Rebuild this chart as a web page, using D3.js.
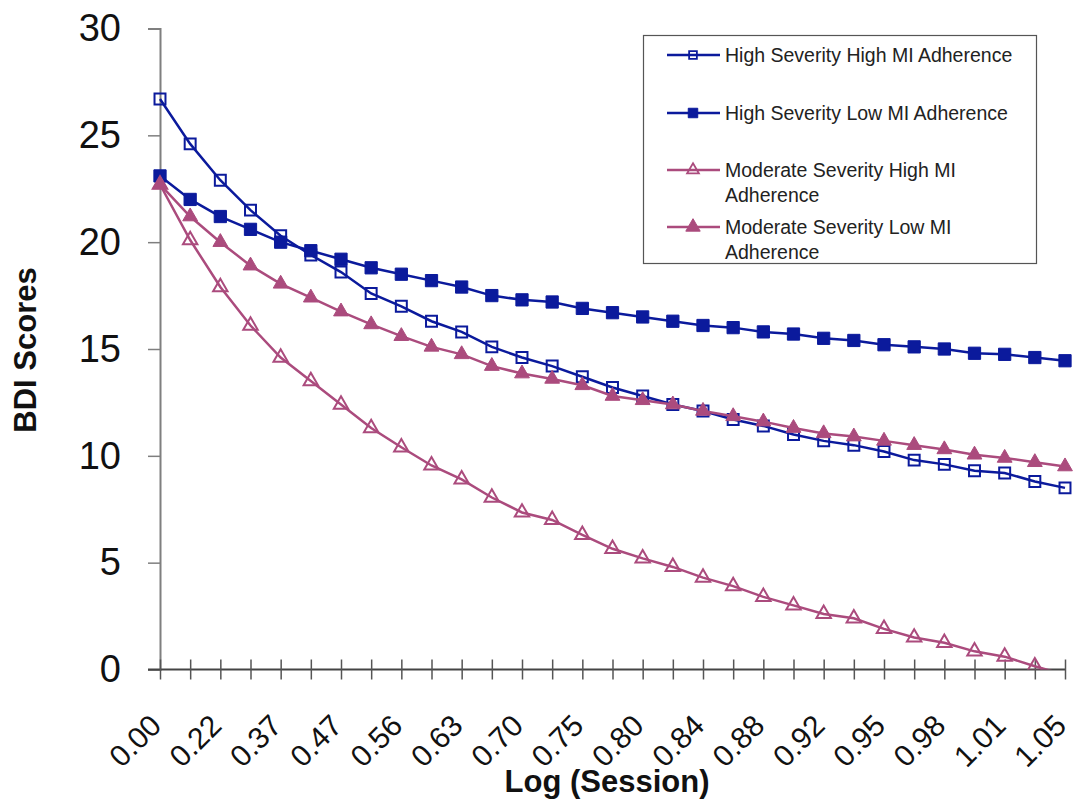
<!DOCTYPE html>
<html lang="en">
<head>
    <meta charset="UTF-8">
    <title>BDI Scores by Log (Session)</title>
    <script src="https://d3js.org/d3.v7.min.js"></script>
    <style>
        body { margin: 0; background: #fff; }
        svg { display: block; font-family: Arial, "Liberation Sans", sans-serif; }
    </style>
</head>
<body>
    <svg id="chart" width="1075" height="799"></svg>

    <script>
        // Data
        // 31 measurement points along the x axis; only every other one is labelled
        const pointCount = 31;
        const tickLabels = ["0.00", "0.22", "0.37", "0.47", "0.56", "0.63", "0.70", "0.75",
                            "0.80", "0.84", "0.88", "0.92", "0.95", "0.98", "1.01", "1.05"];
        const yTicks = [0, 5, 10, 15, 20, 25, 30];

        const highSevHighMI = [26.7, 24.6, 22.9, 21.5, 20.3, 19.4, 18.6, 17.6, 17.0, 16.3,
                               15.8, 15.1, 14.6, 14.2, 13.7, 13.2, 12.8, 12.4, 12.1, 11.7,
                               11.4, 11.0, 10.7, 10.5, 10.2, 9.8, 9.6, 9.3, 9.2, 8.8, 8.5];
        const highSevLowMI = [23.1, 22.0, 21.2, 20.6, 20.0, 19.6, 19.2, 18.8, 18.5, 18.2,
                              17.9, 17.5, 17.3, 17.2, 16.9, 16.7, 16.5, 16.3, 16.1, 16.0,
                              15.8, 15.7, 15.5, 15.4, 15.2, 15.1, 15.0, 14.8, 14.75, 14.6, 14.45];
        const modSevHighMI = [22.7, 20.1, 17.9, 16.1, 14.6, 13.5, 12.4, 11.3, 10.4, 9.55,
                              8.9, 8.05, 7.35, 7.0, 6.3, 5.65, 5.2, 4.8, 4.3, 3.9,
                              3.4, 3.0, 2.6, 2.4, 1.9, 1.5, 1.25, 0.85, 0.6, 0.15, -0.25];
        const modSevLowMI = [22.7, 21.2, 20.0, 18.9, 18.05, 17.4, 16.75, 16.15, 15.6, 15.1,
                             14.75, 14.2, 13.85, 13.6, 13.3, 12.8, 12.6, 12.4, 12.1, 11.85,
                             11.6, 11.3, 11.05, 10.9, 10.7, 10.5, 10.3, 10.05, 9.9, 9.7, 9.5];

        const blue = "#0b1a9c";
        const pink = "#ab4b7d";

        // series table built from the arrays above
        const series = [
            { name: ["High Severity High MI Adherence"], values: highSevHighMI, color: blue, shape: d3.symbolSquare, filled: false },
            { name: ["High Severity Low MI Adherence"], values: highSevLowMI, color: blue, shape: d3.symbolSquare, filled: true },
            { name: ["Moderate Severity High MI", "Adherence"], values: modSevHighMI, color: pink, shape: d3.symbolTriangle, filled: false },
            { name: ["Moderate Severity Low MI", "Adherence"], values: modSevLowMI, color: pink, shape: d3.symbolTriangle, filled: true }
        ];

        const svg = d3.select("#chart");

        // Scales
        const xScale = d3.scalePoint()
            .domain(d3.range(pointCount))
            .range([160, 1065]);

        const yScale = d3.scaleLinear()
            .domain([0, 30])
            .range([669.5, 28.5]);

        // clip so the last point below 0 is cut at the axis
        svg.append("clipPath")
            .attr("id", "plotClip")
            .append("rect")
            .attr("x", 140)
            .attr("y", 0)
            .attr("width", 935)
            .attr("height", yScale(0));

        // y axis
        const yAxis = svg.append("g")
            .attr("transform", `translate(${xScale(0)},0)`)
            .call(d3.axisLeft(yScale).tickValues(yTicks).tickSize(12).tickPadding(27));
        yAxis.select(".domain").attr("stroke", "#7f7f7f").attr("stroke-width", 2);
        yAxis.selectAll(".tick line").attr("stroke", "#7f7f7f").attr("stroke-width", 1.5);
        yAxis.selectAll(".tick text")
            .attr("font-size", "38px")
            .attr("font-family", "Arial, 'Liberation Sans', sans-serif")
            .attr("fill", "#111");

        // x axis - ticks at every point, crossing the axis line
        const xAxis = svg.append("g")
            .attr("transform", `translate(0,${yScale(0)})`)
            .call(d3.axisBottom(xScale).tickSizeInner(10).tickSizeOuter(0).tickFormat(""));
        xAxis.select(".domain").attr("stroke", "#444").attr("stroke-width", 2)
            .attr("d", `M${xScale(0) - 12},0H${xScale(pointCount - 1)}`);
        xAxis.selectAll(".tick line")
            .attr("y1", -10)
            .attr("y2", 10)
            .attr("stroke", "#555")
            .attr("stroke-width", 1.5);

        // rotated tick labels on every other point
        svg.append("g")
            .selectAll("text")
            .data(tickLabels)
            .enter()
            .append("text")
            .attr("transform", (d, i) => `translate(${xScale(i * 2) + 3},${yScale(0) + 58}) rotate(-45)`)
            .attr("text-anchor", "end")
            .attr("font-size", "30px")
            .attr("fill", "#111")
            .text(d => d);

        // axis titles
        svg.append("text")
            .attr("x", 607)
            .attr("y", 792)
            .attr("text-anchor", "middle")
            .attr("font-size", "31px")
            .attr("font-weight", "bold")
            .attr("fill", "#111")
            .text("Log (Session)");

        svg.append("text")
            .attr("transform", "rotate(-90)")
            .attr("x", -350)
            .attr("y", 36)
            .attr("text-anchor", "middle")
            .attr("font-size", "31px")
            .attr("font-weight", "bold")
            .attr("fill", "#111")
            .text("BDI Scores");

        // lines and markers
        const line = d3.line()
            .x((d, i) => xScale(i))
            .y(d => yScale(d));

        const markerSize = s => s.shape === d3.symbolSquare ? (s.filled ? 150 : 120) : (s.filled ? 95 : 90);

        series.forEach(s => {
            const g = svg.append("g").attr("clip-path", "url(#plotClip)");
            g.append("path")
                .datum(s.values)
                .attr("d", line)
                .attr("fill", "none")
                .attr("stroke", s.color)
                .attr("stroke-width", 2.5);

            g.selectAll(".marker")
                .data(s.values.map((v, i) => ({ v, i })).filter(d => d.v >= 0))
                .enter()
                .append("path")
                .attr("class", "marker")
                .attr("transform", d => `translate(${xScale(d.i)},${yScale(d.v)})`)
                .attr("d", d3.symbol().type(s.shape).size(markerSize(s)))
                .attr("fill", s.filled ? s.color : "none")
                .attr("stroke", s.color)
                .attr("stroke-width", s.filled ? 1 : 2);
        });

        // legend
        const legend = svg.append("g");
        legend.append("rect")
            .attr("x", 643.5)
            .attr("y", 35.5)
            .attr("width", 393)
            .attr("height", 228)
            .attr("fill", "#fff")
            .attr("stroke", "#555")
            .attr("stroke-width", 1.2);

        const legendRows = [55, 113, 170, 227];
        series.forEach((s, i) => {
            const y = legendRows[i];
            legend.append("line")
                .attr("x1", 667).attr("x2", 720)
                .attr("y1", y).attr("y2", y)
                .attr("stroke", s.color)
                .attr("stroke-width", 2.5);
            legend.append("path")
                .attr("transform", `translate(693,${y})`)
                .attr("d", d3.symbol().type(s.shape).size(s.filled ? 90 : 60))
                .attr("fill", s.filled ? s.color : "none")
                .attr("stroke", s.color)
                .attr("stroke-width", s.filled ? 1 : 1.8);
            s.name.forEach((txt, j) => {
                legend.append("text")
                    .attr("x", 725)
                    .attr("y", y + 7 + j * 24.5)
                    .attr("font-size", "19.5px")
                    .attr("fill", "#222")
                    .text(txt);
            });
        });
    </script>
</body>
</html>
